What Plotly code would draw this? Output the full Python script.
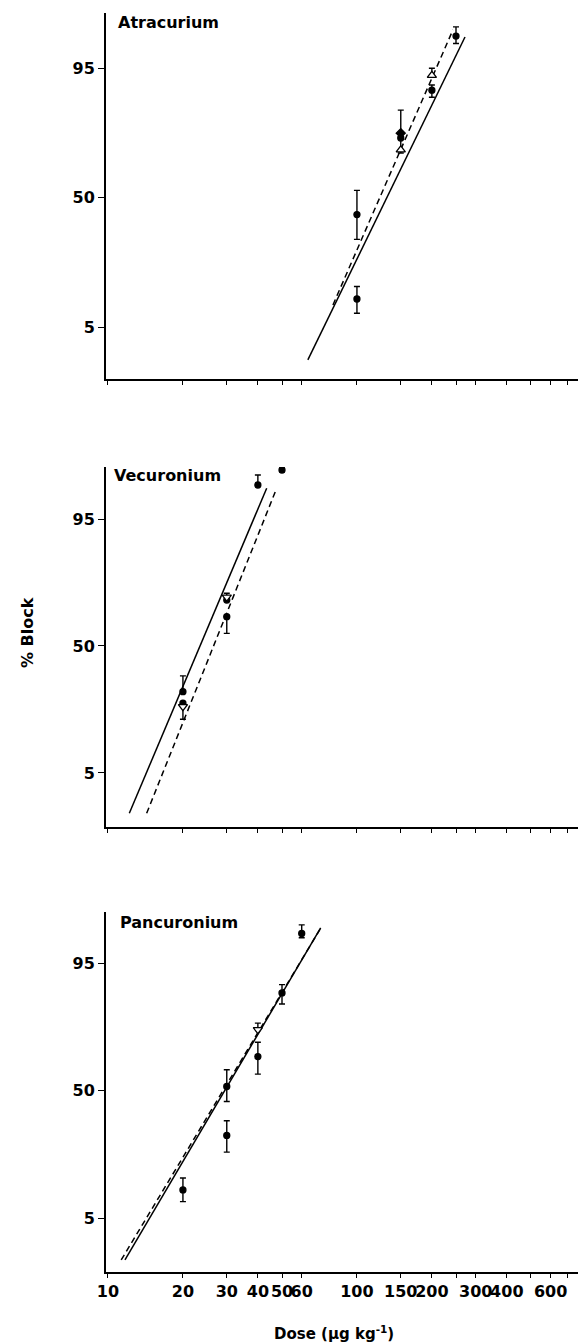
import math
from statistics import NormalDist
import plotly.graph_objects as go

_nd = NormalDist()


def probit(p):
    return _nd.inv_cdf(p / 100.0)


# ---------------- axis ticks ----------------
x_tickvals = [10, 20, 30, 40, 50, 60, 100, 150, 200, 300, 400, 600]
x_ticktext = ["10", "20", "30", "40", "50", "60", "100", "150", "200", "300", "400", "600"]
x_minor_tickvals = [250, 500, 700]
y_tick_pct = [5, 50, 95]
y_tick_text = ["5", "50", "95"]

# ---------------- Atracurium ----------------
atr_circle_dose = [100, 100, 150, 200, 250]
atr_circle_pct = [41.5, 9.9, 77.6, 91.4, 98.0]
atr_circle_hi = [53.7, 12.96, None, 92.4, 98.5]
atr_circle_lo = [29.8, 7.1, None, 89.9, 97.5]

atr_diamond_dose = [150]
atr_diamond_pct = [79.4]
atr_diamond_hi = [86.7]
atr_diamond_lo = [71.5]

atr_tri_dose = [150, 200]
atr_tri_pct = [72.8, 94.0]
atr_tri_hi = [None, 95.0]
atr_tri_lo = [None, None]

atr_solid_dose = [63.5, 271.7]
atr_solid_pct = [1.96, 97.94]
atr_dash_dose = [80.1, 243.0]
atr_dash_pct = [8.64, 98.35]

# ---------------- Vecuronium ----------------
vec_circle_dose = [20, 20, 30, 30, 40, 50]
vec_circle_pct = [27.7, 22.9, 72.4, 64.8, 98.15, 98.87]
vec_circle_hi = [34.9, None, None, None, 98.66, 98.95]
vec_circle_lo = [None, None, None, 56.5, None, 98.8]

vec_tri_dose = [20, 30]
vec_tri_pct = [21.6, 73.7]
vec_tri_hi = [None, 75.3]
vec_tri_lo = [17.1, None]

vec_solid_dose = [12.18, 43.4]
vec_solid_pct = [1.51, 97.95]
vec_dash_dose = [14.3, 47.6]
vec_dash_pct = [1.51, 97.95]

# ---------------- Pancuronium ----------------
pan_circle_dose = [20, 30, 30, 40, 50, 60]
pan_circle_pct = [10.0, 52.2, 28.2, 67.1, 89.7, 97.9]
pan_circle_hi = [12.97, 60.7, 34.9, 73.5, 91.5, 98.4]
pan_circle_lo = [7.6, 44.5, 21.4, 58.5, 86.9, 97.6]

pan_tri_dose = [40]
pan_tri_pct = [78.5]
pan_tri_hi = [80.9]
pan_tri_lo = [None]

pan_solid_dose = [11.7, 71.5]
pan_solid_pct = [1.44, 98.24]
pan_dash_dose = [11.3, 72.3]
pan_dash_pct = [1.44, 98.33]

panel_titles = ["Atracurium", "Vecuronium", "Pancuronium"]

# ---------------- layout geometry ----------------
W, H = 578, 1344
ML, MR, MT, MB = 106, 0, 13, 72
PH = H - MT - MB
domains = [[0.7093, 1.0], [0.3535, 0.6394], [0.0, 0.2859]]
yranges = [[-2.304, 2.347], [-2.345, 2.319], [-2.342, 2.31]]
xrange_log = [0.992, 2.888]

FONT = "DejaVu Sans"
fig = go.Figure()


def err_arrays(pct, hi, lo):
    up, dn = [], []
    for p, h, l in zip(pct, hi, lo):
        up.append(probit(h) - probit(p) if h is not None else 0.0)
        dn.append(probit(p) - probit(l) if l is not None else 0.0)
    return up, dn


def add_points(dose, pct, hi, lo, symbol, size, xa, ya, fill="black"):
    idx = [i for i in range(len(dose)) if hi[i] is not None or lo[i] is not None]
    if idx:
        up, dn = err_arrays([pct[i] for i in idx], [hi[i] for i in idx], [lo[i] for i in idx])
        fig.add_trace(go.Scatter(
            x=[dose[i] for i in idx], y=[probit(pct[i]) for i in idx],
            mode="markers", marker=dict(size=1, color="rgba(0,0,0,0)"),
            error_y=dict(type="data", symmetric=False, array=up, arrayminus=dn,
                         color="black", thickness=1.4, width=3),
            xaxis=xa, yaxis=ya, showlegend=False, hoverinfo="skip"))
    fig.add_trace(go.Scatter(
        x=dose, y=[probit(p) for p in pct], mode="markers",
        marker=dict(symbol=symbol, size=size, color=fill,
                    line=dict(color="black", width=1.3)),
        xaxis=xa, yaxis=ya, showlegend=False))


def add_line(dose, pct, dash, xa, ya):
    fig.add_trace(go.Scatter(
        x=dose, y=[probit(p) for p in pct], mode="lines",
        line=dict(color="black", width=1.5, dash=dash),
        xaxis=xa, yaxis=ya, showlegend=False, hoverinfo="skip"))


panels = [
    dict(lines=[(atr_solid_dose, atr_solid_pct, "solid"), (atr_dash_dose, atr_dash_pct, "6px,4px")],
         pts=[(atr_circle_dose, atr_circle_pct, atr_circle_hi, atr_circle_lo, "circle", 6, "black"),
              (atr_diamond_dose, atr_diamond_pct, atr_diamond_hi, atr_diamond_lo, "diamond", 7, "black"),
              (atr_tri_dose, atr_tri_pct, atr_tri_hi, atr_tri_lo, "triangle-up", 8, "white")]),
    dict(lines=[(vec_solid_dose, vec_solid_pct, "solid"), (vec_dash_dose, vec_dash_pct, "6px,4px")],
         pts=[(vec_circle_dose, vec_circle_pct, vec_circle_hi, vec_circle_lo, "circle", 6, "black"),
              (vec_tri_dose, vec_tri_pct, vec_tri_hi, vec_tri_lo, "triangle-down", 8, "white")]),
    dict(lines=[(pan_solid_dose, pan_solid_pct, "solid"), (pan_dash_dose, pan_dash_pct, "6px,4px")],
         pts=[(pan_circle_dose, pan_circle_pct, pan_circle_hi, pan_circle_lo, "circle", 6, "black"),
              (pan_tri_dose, pan_tri_pct, pan_tri_hi, pan_tri_lo, "triangle-down", 8, "white")]),
]

layout_axes = {}
for k, panel in enumerate(panels):
    n = k + 1
    xa = "x" if n == 1 else f"x{n}"
    ya = "y" if n == 1 else f"y{n}"
    for d, p, dash in panel["lines"]:
        add_line(d, p, dash, xa, ya)
    for d, p, hi, lo, sym, sz, fill in panel["pts"]:
        add_points(d, p, hi, lo, sym, sz, xa, ya, fill)

    xkey = "xaxis" if n == 1 else f"xaxis{n}"
    ykey = "yaxis" if n == 1 else f"yaxis{n}"
    layout_axes[xkey] = dict(
        type="log", range=xrange_log, domain=[0, 1], anchor=ya,
        showline=True, linewidth=2, linecolor="black",
        ticks="outside", ticklen=4, tickwidth=1.3, tickcolor="black",
        tickvals=x_tickvals, ticktext=x_ticktext, tickangle=0,
        minor=dict(tickvals=x_minor_tickvals, ticks="outside", ticklen=4,
                   tickwidth=1.3, tickcolor="black", showgrid=False),
        showticklabels=(n == 3),
        tickfont=dict(family=FONT, size=16, color="black", weight="bold"),
        showgrid=False, zeroline=False, fixedrange=True)
    layout_axes[ykey] = dict(
        range=yranges[k], domain=domains[k], anchor=xa,
        showline=True, linewidth=2, linecolor="black",
        ticks="outside", ticklen=6, tickwidth=1.3, tickcolor="black",
        tickvals=[probit(v) for v in y_tick_pct], ticktext=y_tick_text,
        tickfont=dict(family=FONT, size=16, color="black", weight="bold"),
        showgrid=False, zeroline=False, fixedrange=True)

annotations = []
title_px = [(116, 23), (112, 475), (118, 922)]
for (px, py), t in zip(title_px, panel_titles):
    annotations.append(dict(
        text=t, xref="paper", yref="paper",
        x=(px - ML) / (W - ML - MR), y=(H - MB - py) / PH,
        xanchor="left", yanchor="middle", showarrow=False,
        font=dict(family=FONT, size=16, color="black", weight="bold")))

annotations.append(dict(
    text="% Block", xref="paper", yref="paper", textangle=-90,
    x=(27 - ML) / (W - ML - MR), y=(H - MB - 633) / PH,
    xanchor="center", yanchor="middle", showarrow=False,
    font=dict(family=FONT, size=16, color="black", weight="bold")))
annotations.append(dict(
    text="Dose (µg kg<sup>-1</sup>)", xref="paper", yref="paper",
    x=(334 - ML) / (W - ML - MR), y=(H - MB - 1333) / PH,
    xanchor="center", yanchor="middle", showarrow=False,
    font=dict(family=FONT, size=15, color="black", weight="bold")))

fig.update_layout(
    width=W, height=H, autosize=False,
    margin=dict(l=ML, r=MR, t=MT, b=MB, autoexpand=False),
    paper_bgcolor="white", plot_bgcolor="white",
    annotations=annotations, showlegend=False,
    **layout_axes)

fig.write_html("out.html", config={"displayModeBar": False},
               post_script="document.body.style.margin='0';document.body.style.padding='0';")
